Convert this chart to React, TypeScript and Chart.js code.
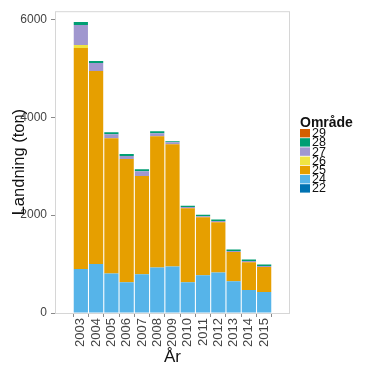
import React, { useEffect, useRef } from "react";
import { Chart, registerables } from "chart.js";
Chart.register(...registerables);

const years = ["2003", "2004", "2005", "2006", "2007", "2008", "2009", "2010", "2011", "2012", "2013", "2014", "2015"];
const areaNames = ["22", "24", "25", "26", "27", "28", "29"];
const area22 = [0, 0, 0, 0, 0, 0, 0, 0, 0, 0, 0, 0, 0];
const area24 = [900, 1000, 810, 630, 790, 930, 950, 630, 770, 830, 650, 470, 430];
const area25 = [4520, 3950, 2765, 2520, 2010, 2685, 2500, 1510, 1185, 1025, 595, 570, 510];
const area26 = [60, 0, 0, 0, 0, 0, 0, 0, 0, 0, 0, 0, 0];
const area27 = [410, 160, 80, 60, 100, 60, 40, 25, 25, 25, 25, 25, 20];
const area28 = [60, 40, 40, 40, 40, 40, 20, 30, 30, 30, 30, 30, 30];
const area29 = [0, 0, 0, 0, 0, 0, 0, 0, 0, 0, 0, 0, 0];
const yTicks = [0, 2000, 4000, 6000];
const seriesValues = [area22, area24, area25, area26, area27, area28, area29];

const colors = ["#0072B2", "#56B4E9", "#E69F00", "#F0E442", "#A097CF", "#009E73", "#D55E00"];
const FONT = "'Liberation Sans', Arial, Helvetica, sans-serif";

export default function App() {
  const ref = useRef<HTMLCanvasElement | null>(null);
  useEffect(() => {
    if (!ref.current) return;
    const decor = {
      id: "decor",
      afterDraw(chart: any) {
        const { ctx, chartArea } = chart;
        const { left, right, top, bottom } = chartArea;
        ctx.save();
        // panel border
        ctx.strokeStyle = "#d6d6d6";
        ctx.lineWidth = 1;
        ctx.strokeRect(left + 0.5, top + 0.5, right - left - 1, bottom - top);
        // axis titles
        ctx.fillStyle = "#111";
        ctx.font = `17px ${FONT}`;
        ctx.textAlign = "center";
        ctx.textBaseline = "alphabetic";
        ctx.fillText("År", (left + right) / 2, 362);
        ctx.save();
        ctx.translate(24, (top + bottom) / 2);
        ctx.rotate(-Math.PI / 2);
        ctx.font = `16.5px ${FONT}`;
        ctx.fillText("Landning (ton)", 0, 0);
        ctx.restore();
        // legend
        ctx.textAlign = "left";
        ctx.font = `bold 14px ${FONT}`;
        ctx.fillText("Område", 300, 127);
        const ds = chart.data.datasets;
        const n = ds.length;
        for (let i = 0; i < n; i++) {
          const d = ds[n - 1 - i];
          const y0 = 129 + i * 9.2;
          ctx.fillStyle = d.backgroundColor;
          ctx.fillRect(300, y0, 10, 8.4);
          ctx.fillStyle = "#111";
          ctx.font = `12.5px ${FONT}`;
          ctx.textBaseline = "middle";
          ctx.fillText(d.label, 312, y0 + 4.8);
        }
        ctx.restore();
      },
    };
    const chart = new Chart(ref.current, {
      type: "bar",
      data: {
        datasets: areaNames.map((name, k) => ({
          label: name,
          data: seriesValues[k].map((v, i) => ({ x: i + 1, y: v })),
          backgroundColor: colors[k],
          borderWidth: 0,
          barPercentage: 0.93,
          categoryPercentage: 1,
        })),
      },
      options: {
        responsive: false,
        animation: false,
        layout: { padding: { top: 9, right: 77, left: 0, bottom: 0 } },
        plugins: { legend: { display: false }, tooltip: { enabled: false } },
        scales: {
          x: {
            type: "linear",
            stacked: true,
            min: -0.1,
            max: 14.1,
            afterFit: (s: any) => { s.height = 54; },
            afterBuildTicks: (s: any) => {
              s.ticks = years.map((_, i) => ({ value: i + 1 }));
            },
            grid: { display: true, drawOnChartArea: false, tickLength: 4, color: "#8a8a8a" },
            border: { display: false },
            ticks: {
              stepSize: 1,
              includeBounds: false,
              autoSkip: false,
              maxRotation: 90,
              minRotation: 90,
              padding: 1,
              color: "#444",
              font: { family: FONT, size: 13 },
              callback: (v: any) => years[Math.round(v) - 1] ?? "",
            },
          },
          y: {
            stacked: true,
            min: 0,
            max: 6170,
            afterFit: (s: any) => { s.width = 55; },
            afterBuildTicks: (s: any) => {
              s.ticks = yTicks.map((v) => ({ value: v }));
            },
            grid: { display: true, drawOnChartArea: false, tickLength: 4, color: "#8a8a8a" },
            border: { display: false },
            ticks: {
              padding: 4,
              color: "#444",
              font: { family: FONT, size: 12 },
              callback: (v: any) => String(v),
            },
          },
        },
      },
      plugins: [decor],
    } as any);
    return () => chart.destroy();
  }, []);
  return (
    <div style={{ position: "fixed", left: 0, top: 0, width: 367, height: 367, background: "#fff" }}>
      <canvas ref={ref} width={367} height={367} style={{ width: 367, height: 367 }} />
    </div>
  );
}
